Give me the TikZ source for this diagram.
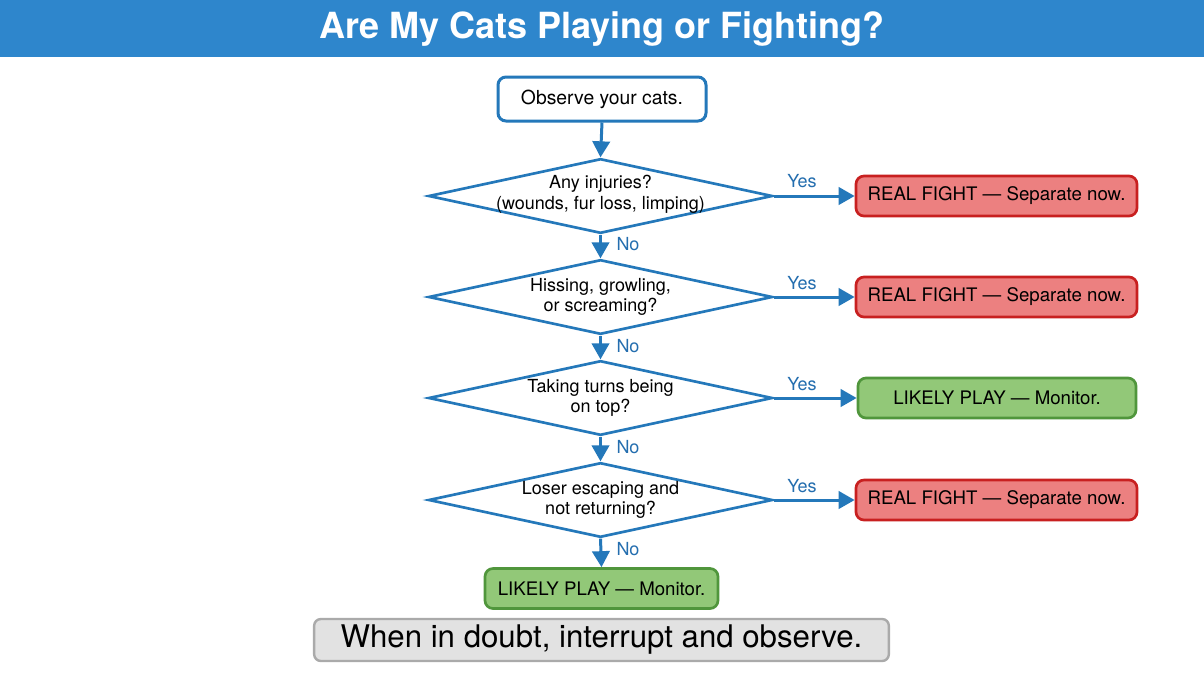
\documentclass[tikz,border=0pt]{standalone}
\usepackage{fontspec}
\setmainfont{TeX Gyre Heros}
\usetikzlibrary{shapes.geometric,arrows.meta}
\definecolor{titleblue}{RGB}{46,134,204}
\definecolor{lineblue}{RGB}{36,120,186}
\definecolor{labelblue}{RGB}{36,110,175}
\definecolor{redfill}{RGB}{236,128,128}
\definecolor{redline}{RGB}{200,32,32}
\definecolor{greenfill}{RGB}{146,200,120}
\definecolor{greenline}{RGB}{80,150,60}
\definecolor{grayfill}{RGB}{226,226,226}
\definecolor{grayline}{RGB}{170,170,170}
\tikzset{
  startbox/.style={draw=lineblue, line width=2.25pt, fill=white, rounded corners=6pt, minimum width=156pt, minimum height=33pt, inner sep=0pt, font=\fontsize{14.5}{17}\selectfont},
  decision/.style={draw=lineblue, line width=2pt, fill=white, shape=diamond, minimum width=258pt, minimum height=56pt, inner sep=0pt},
  dtext/.style={align=center, inner sep=0pt, font=\fontsize{13.5}{15.5}\selectfont},
  fightbox/.style={draw=redline, line width=2pt, fill=redfill, rounded corners=6pt, minimum width=210.75pt, minimum height=30pt, inner sep=0pt, font=\fontsize{14}{16}\selectfont},
  playbox/.style={draw=greenline, line width=2pt, fill=greenfill, rounded corners=6pt, minimum height=30pt, inner sep=0pt, font=\fontsize{14}{16}\selectfont},
  notebox/.style={draw=grayline, line width=1.8pt, fill=grayfill, rounded corners=5pt, minimum width=431pt, minimum height=31.5pt, inner sep=0pt, font=\fontsize{23.4}{26}\selectfont},
  arr/.style={draw=lineblue, line width=2.25pt, -{Triangle[length=12pt,width=13pt]}},
  yeslab/.style={text=labelblue, font=\fontsize{13.5}{15}\selectfont, inner sep=0pt},
}
\begin{document}
\begin{tikzpicture}[x=0.75pt,y=-0.75pt]
\useasboundingbox (0,0) rectangle (1204,672);
\fill[white] (0,0) rectangle (1204,672);
\fill[titleblue] (0,0) rectangle (1204,57);
\node[text=white, font=\fontsize{27}{30}\selectfont\bfseries] (title) at (602,29) {Are My Cats Playing or Fighting?};

\node[startbox] (start) at (602,99) {Observe your cats.};

\node[decision] (d1) at (600.5,196) {};
\node[dtext] (t1) at (600.5,194) {Any injuries?\\(wounds, fur loss, limping)};
\node[decision] (d2) at (600.5,297) {};
\node[dtext] (t2) at (600.5,297) {Hissing, growling,\\or screaming?};
\node[decision] (d3) at (600.5,398) {};
\node[dtext] (t3) at (600.5,398) {Taking turns being\\on top?};
\node[decision] (d4) at (600.5,500) {};
\node[dtext] (t4) at (600.5,500) {Loser escaping and\\not returning?};

\node[fightbox] (r1) at (996.5,196) {REAL FIGHT — Separate now.};
\node[fightbox] (r2) at (996.5,297) {REAL FIGHT — Separate now.};
\node[playbox, minimum width=208.5pt] (g1) at (997,398) {LIKELY PLAY — Monitor.};
\node[fightbox] (r3) at (996.5,500) {REAL FIGHT — Separate now.};

\node[playbox, minimum width=174.75pt] (g2) at (601.5,588.5) {LIKELY PLAY — Monitor.};
\node[notebox] (note) at (601.5,640) {When in doubt, interrupt and observe.};

\draw[arr] (start.south) -- (d1.north);
\draw[arr] (d1.east) -- (r1.west);
\draw[arr] (d2.east) -- (r2.west);
\draw[arr] (d3.east) -- (g1.west);
\draw[arr] (d4.east) -- (r3.west);
\draw[arr] (d1.south) -- (d2.north);
\draw[arr] (d2.south) -- (d3.north);
\draw[arr] (d3.south) -- (d4.north);
\draw[arr] (d4.south) -- (g2.north);

\node[yeslab] (y1) at (802,181) {Yes};
\node[yeslab] (y2) at (802,283) {Yes};
\node[yeslab] (y3) at (802,384) {Yes};
\node[yeslab] (y4) at (802,486) {Yes};
\node[yeslab] (n1) at (628,244) {No};
\node[yeslab] (n2) at (628,346) {No};
\node[yeslab] (n3) at (628,447) {No};
\node[yeslab] (n4) at (628,549) {No};
\end{tikzpicture}
\end{document}
